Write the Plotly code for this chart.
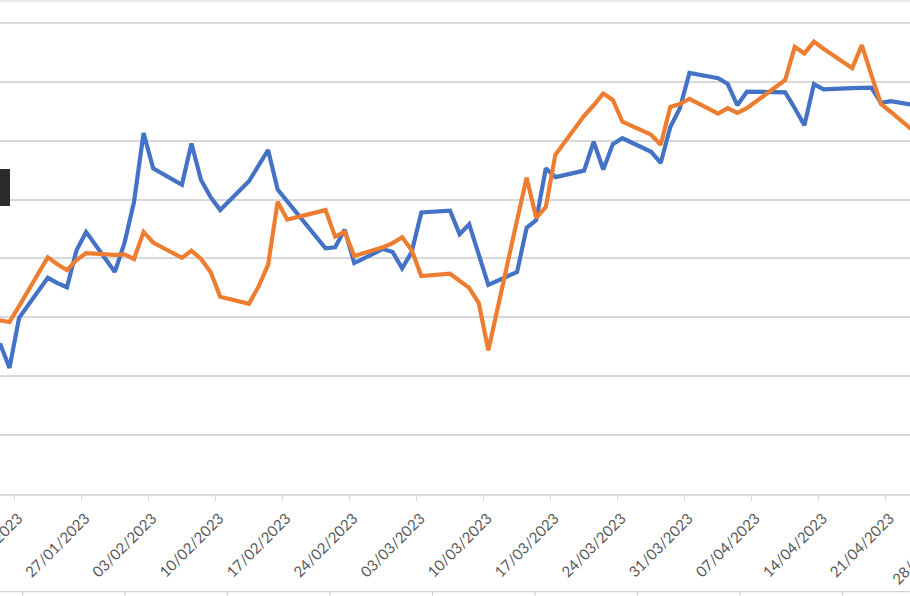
import pandas as pd
import plotly.graph_objects as go

# ---------------- data ----------------
dates = ["2023-01-18","2023-01-19","2023-01-20","2023-01-23","2023-01-24","2023-01-25","2023-01-26","2023-01-27","2023-01-30","2023-01-31",
         "2023-02-01","2023-02-02","2023-02-03","2023-02-06","2023-02-07","2023-02-08","2023-02-09","2023-02-10","2023-02-13","2023-02-14",
         "2023-02-15","2023-02-16","2023-02-17","2023-02-21","2023-02-22","2023-02-23","2023-02-24","2023-02-27","2023-02-28",
         "2023-03-01","2023-03-02","2023-03-03","2023-03-06","2023-03-07","2023-03-08","2023-03-09","2023-03-10","2023-03-13","2023-03-14",
         "2023-03-15","2023-03-16","2023-03-17","2023-03-20","2023-03-21","2023-03-22","2023-03-23","2023-03-24","2023-03-27","2023-03-28",
         "2023-03-29","2023-03-30","2023-03-31",
         "2023-04-03","2023-04-04","2023-04-05","2023-04-06","2023-04-10","2023-04-11","2023-04-12","2023-04-13","2023-04-14","2023-04-17",
         "2023-04-18","2023-04-19","2023-04-20","2023-04-21","2023-04-24"]

series_blue = [2.56, 2.14, 2.99, 3.67, 3.58, 3.51, 4.14, 4.45, 3.77, 4.26,
               4.96, 6.13, 5.53, 5.25, 5.95, 5.33, 5.04, 4.82, 5.31, 5.57, 5.84, 5.17, 4.97, 4.17, 4.19, 4.49, 3.92, 4.16, 4.11,
               3.83, 4.11, 4.78, 4.81, 4.41, 4.58, 4.04, 3.55, 3.77, 4.52, 4.65, 5.53, 5.38, 5.49, 5.98, 5.51, 5.94, 6.04, 5.81, 5.62, 6.23, 6.55, 7.15,
               7.06, 6.96, 6.60, 6.83, 6.82, 6.55, 6.26, 6.96, 6.87, 6.89, 6.90, 6.90, 6.64, 6.67, 6.59]

series_orange = [2.95, 2.92, 3.19, 4.02, 3.90, 3.80, 3.97, 4.09, 4.06, 4.07,
                 3.99, 4.45, 4.27, 4.01, 4.13, 3.99, 3.77, 3.35, 3.23, 3.52, 3.89, 4.96, 4.66, 4.82, 4.37, 4.45, 4.04, 4.19, 4.26,
                 4.36, 4.14, 3.70, 3.74, 3.63, 3.50, 3.24, 2.44, 4.65, 5.37, 4.69, 4.87, 5.76, 6.42, 6.60, 6.80, 6.69, 6.32, 6.10, 5.93, 6.57, 6.62, 6.71,
                 6.46, 6.55, 6.47, 6.55, 7.03, 7.59, 7.48, 7.68, 7.56, 7.23, 7.62, 7.11, 6.62, 6.49, 6.08]

# Excel date axis "between tick marks": each point sits mid-day
x = pd.to_datetime(dates) + pd.Timedelta(hours=12)

BLUE = "#4472C4"
ORANGE = "#ED7D31"
GRID = "#D9D9D9"
LABEL = "#595959"
FONT = "Lato, Open Sans, sans-serif"

fig = go.Figure()
fig.add_trace(go.Scatter(x=x, y=series_blue, mode="lines", name="Series 1",
                         line=dict(color=BLUE, width=4.2)))
fig.add_trace(go.Scatter(x=x, y=series_orange, mode="lines", name="Series 2",
                         line=dict(color=ORANGE, width=4.2)))

W, H = 910, 596
B = 102
ph = H - B

shapes = []
# tooltip remnant at left edge
shapes.append(dict(type="rect", xref="paper", yref="paper",
                   x0=-0.01, x1=10/W, y0=(ph-206)/ph, y1=(ph-169)/ph,
                   fillcolor="#2B2B2B", line=dict(width=0), layer="above"))
# worksheet cell borders outside the chart
for yy, y_end in [(1, 0), (591.7, 596)]:
    shapes.append(dict(type="line", xref="paper", yref="paper",
                       x0=0, x1=1, y0=(ph-yy)/ph, y1=(ph-yy)/ph,
                       line=dict(color="#D4D4D4", width=1.2)))
    for cx in [22.7, 125, 227.3, 330, 432.5, 535, 637.5, 740, 842.5]:
        shapes.append(dict(type="line", xref="paper", yref="paper",
                           x0=cx/W, x1=cx/W, y0=(ph-yy)/ph, y1=(ph-y_end)/ph,
                           line=dict(color="#D4D4D4", width=1.2)))

fig.update_layout(
    width=W, height=H,
    margin=dict(l=0, r=0, t=0, b=B, pad=0),
    paper_bgcolor="white", plot_bgcolor="white",
    showlegend=False,
    font=dict(family=FONT, size=15, color=LABEL),
    shapes=shapes,
    xaxis=dict(
        type="date",
        range=["2023-01-18 12:10", "2023-04-23 12:43"],
        tickmode="linear", tick0="2023-01-20", dtick=7 * 86400000,
        tickformat="%d/%m/%Y", tickangle=-45,
        ticks="outside", ticklen=5, tickcolor=GRID, tickwidth=1.3,
        showline=True, linecolor=GRID, linewidth=1.5,
        showgrid=False, zeroline=False, automargin=False,
        ticklabeloverflow="allow", ticklabelshift=4, ticklabelstandoff=3,
        tickfont=dict(family=FONT, size=15, color=LABEL),
    ),
    yaxis=dict(
        range=[0, ph / 58.9],
        tickmode="linear", tick0=0, dtick=1,
        showgrid=True, gridcolor=GRID, gridwidth=1.5,
        showticklabels=False, zeroline=False, showline=False,
        automargin=False,
    ),
)

# partially visible next date label at the right edge
fig.add_annotation(text="28/04/2023", xref="paper", yref="paper",
                   x=962/W, y=(ph-513)/ph, xanchor="right", yanchor="top",
                   textangle=-45, showarrow=False,
                   font=dict(family=FONT, size=15, color=LABEL))

fig.write_html("out.html",
               config={"displayModeBar": False},
               post_script="document.body.style.margin='0';document.body.style.overflow='hidden';")
